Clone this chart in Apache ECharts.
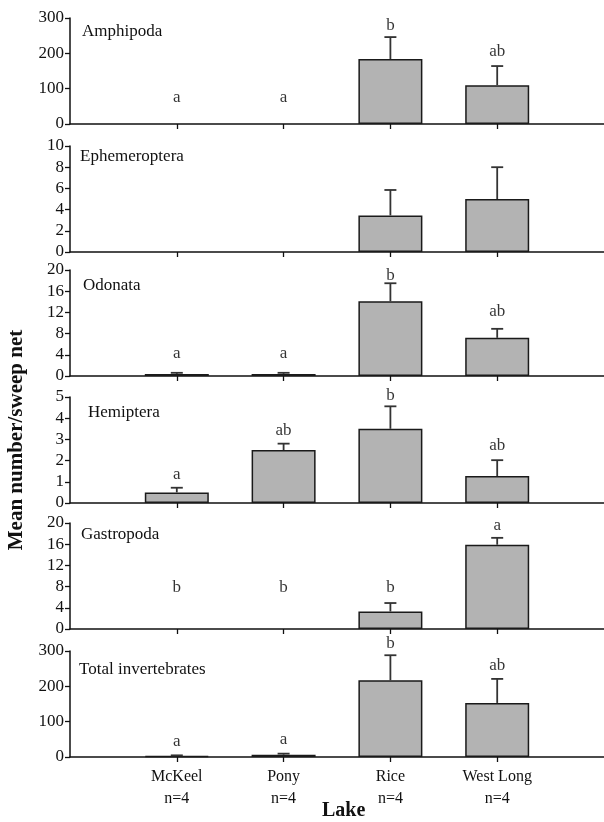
<!DOCTYPE html>
<html><head><meta charset="utf-8">
<script src="https://cdn.jsdelivr.net/npm/echarts@6/dist/echarts.min.js"></script>
<style>html,body{margin:0;padding:0;background:#fff}#c{width:604px;height:822px}</style>
</head><body><div id="c"></div>
<script>
const categories = ['McKeel', 'Pony', 'Rice', 'West Long'];
const sampleSizes = ['n=4', 'n=4', 'n=4', 'n=4'];
const panelNames = ['Amphipoda', 'Ephemeroptera', 'Odonata', 'Hemiptera', 'Gastropoda', 'Total invertebrates'];
const yMax = [300, 10, 20, 5, 20, 300];
const yStep = [100, 2, 4, 1, 4, 100];

const amphipodaMean = [0, 0, 184, 110];
const amphipodaSE = [0, 0, 62, 54];
const amphipodaLetters = ['a', 'a', 'b', 'ab'];
const amphipodaLetterY = [74, 74, 280, 204];

const ephemeropteraMean = [0, 0, 3.45, 5.0];
const ephemeropteraSE = [0, 0, 2.4, 3.0];
const ephemeropteraLetters = ['', '', '', ''];
const ephemeropteraLetterY = [0, 0, 0, 0];

const odonataMean = [0.4, 0.4, 14.1, 7.2];
const odonataSE = [0.2, 0.2, 3.4, 1.7];
const odonataLetters = ['a', 'a', 'b', 'ab'];
const odonataLetterY = [4.3, 4.3, 19.0, 12.1];

const hemipteraMean = [0.5, 2.5, 3.5, 1.27];
const hemipteraSE = [0.22, 0.3, 1.06, 0.75];
const hemipteraLetters = ['a', 'ab', 'b', 'ab'];
const hemipteraLetterY = [1.32, 3.4, 5.09, 2.7];

const gastropodaMean = [0, 0, 3.3, 15.9];
const gastropodaSE = [0, 0, 1.6, 1.3];
const gastropodaLetters = ['b', 'b', 'b', 'a'];
const gastropodaLetterY = [7.9, 7.9, 7.9, 19.5];

const totalMean = [2.8, 6.6, 217, 153];
const totalSE = [1.9, 2.9, 71, 68];
const totalLetters = ['a', 'a', 'b', 'ab'];
const totalLetterY = [44, 50, 320, 260];

const means = [amphipodaMean, ephemeropteraMean, odonataMean, hemipteraMean, gastropodaMean, totalMean];
const ses = [amphipodaSE, ephemeropteraSE, odonataSE, hemipteraSE, gastropodaSE, totalSE];
const letters = [amphipodaLetters, ephemeropteraLetters, odonataLetters, hemipteraLetters, gastropodaLetters, totalLetters];
const letterYs = [amphipodaLetterY, ephemeropteraLetterY, odonataLetterY, hemipteraLetterY, gastropodaLetterY, totalLetterY];

const FONT = '"Liberation Serif", "Times New Roman", serif';
const tops = [18, 146, 270, 397, 523, 651];
const H = 106;
const titleLeft = [82, 80, 83, 88, 81, 79];
const titleDy = [5, 2, 7, 7, 3, 10];
const axisData = [''].concat(categories.map((c, i) => c + '\n' + sampleSizes[i])).concat(['']);

const chart = echarts.init(document.getElementById('c'), null, {renderer: 'canvas'});
const grid = [], xAxis = [], yAxis = [], series = [], graphic = [];
for (let p = 0; p < 6; p++) {
  const last = p === 5;
  grid.push({left: 70, right: 0, top: tops[p], height: H, containLabel: false, outerBoundsMode: 'none'});
  xAxis.push({
    type: 'category', gridIndex: p, data: axisData, boundaryGap: false,
    axisLine: {lineStyle: {color: '#111', width: 1.5}},
    axisTick: {show: true, length: 5, lineStyle: {color: '#111', width: 1.3},
      interval: (i) => i > 0 && i < 5},
    axisLabel: {show: last, interval: 0, color: '#111', fontFamily: FONT, fontSize: 16, lineHeight: 22, margin: 9},
    splitLine: {show: false}
  });
  yAxis.push({
    type: 'value', gridIndex: p, min: 0, max: yMax[p], interval: yStep[p],
    axisLine: {show: true, lineStyle: {color: '#111', width: 1.5}},
    axisTick: {show: true, length: 5, lineStyle: {color: '#111', width: 1.3}},
    axisLabel: {color: '#111', fontFamily: FONT, fontSize: 17, margin: 6},
    splitLine: {show: false}
  });
  const pad = (arr) => [null].concat(arr.map(v => (v > 0 ? v : null))).concat([null]);
  series.push({
    type: 'bar', xAxisIndex: p, yAxisIndex: p, barWidth: 64,
    data: pad(means[p]),
    itemStyle: {color: '#b3b3b3', borderColor: '#1a1a1a', borderWidth: 1.5},
    z: 2, animation: false
  });
  const errData = [];
  means[p].forEach((m, i) => { if (ses[p][i] > 0) errData.push([i + 1, m, m + ses[p][i]]); });
  series.push({
    type: 'custom', xAxisIndex: p, yAxisIndex: p, data: errData, z: 3, animation: false,
    renderItem: function (params, api) {
      const lo = api.coord([api.value(0), api.value(1)]);
      const hi = api.coord([api.value(0), api.value(2)]);
      const st = {stroke: '#333', lineWidth: 1.8};
      return {type: 'group', children: [
        {type: 'line', shape: {x1: lo[0], y1: lo[1], x2: hi[0], y2: hi[1]}, style: st},
        {type: 'line', shape: {x1: hi[0] - 6, y1: hi[1], x2: hi[0] + 6, y2: hi[1]}, style: st}
      ]};
    }
  });
  const letData = [];
  letters[p].forEach((l, i) => { if (l) letData.push({value: [i + 1, letterYs[p][i]], name: l}); });
  series.push({
    type: 'scatter', xAxisIndex: p, yAxisIndex: p, data: letData, symbolSize: 1, symbol: 'circle',
    itemStyle: {color: 'rgba(0,0,0,0)'}, animation: false, clip: false,
    label: {show: true, position: 'inside', formatter: (d) => d.name, color: '#000',
      textBorderWidth: 0, textBorderColor: 'transparent', fontFamily: FONT, fontSize: 17}
  });
  graphic.push({type: 'text', left: titleLeft[p], top: tops[p] + titleDy[p],
    style: {text: panelNames[p], font: '17px ' + FONT, fill: '#111'}});
}
graphic.push({type: 'text', x: 17, y: 440, rotation: Math.PI / 2, originX: 0, originY: 0,
  style: {text: 'Mean number/sweep net', font: 'bold 21px ' + FONT, fill: '#111', textAlign: 'center', textVerticalAlign: 'middle'}});
graphic.push({type: 'text', left: 322, top: 801,
  style: {text: 'Lake', font: 'bold 20px ' + FONT, fill: '#111'}});

chart.setOption({animation: false, grid, xAxis, yAxis, series, graphic});
</script></body></html>
